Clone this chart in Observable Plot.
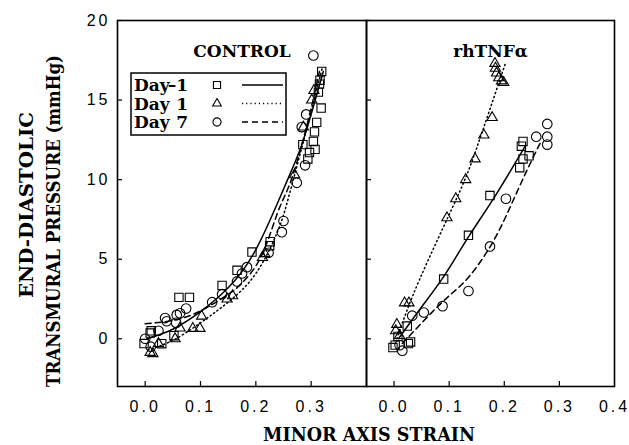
<!DOCTYPE html>
<html><head><meta charset="utf-8">
<script src="https://cdn.jsdelivr.net/npm/d3@7"></script>
<script src="https://cdn.jsdelivr.net/npm/@observablehq/plot@0.6"></script>
<style>
body{margin:0;background:#fff;}
#wrap{position:relative;width:629px;height:445px;overflow:hidden;background:#fff;}
#wrap svg{position:absolute;top:0;}
g[aria-label="x-axis tick label"] text, g[aria-label="y-axis tick label"] text{letter-spacing:3px;}
</style></head><body><div id="wrap"></div>
<script>
// ---------- data ----------
const xDomain = [-0.05, 0.4];
const yDomain = [-3, 20];
const yTicks = [0, 5, 10, 15, 20];
const xTicksLeft = [0, 0.1, 0.2, 0.3];
const xTicksRight = [0, 0.1, 0.2, 0.3, 0.4];
const panelTitles = ["CONTROL", "rhTNFα"];
const seriesNames = ["Day", "Day", "Day"];
const seriesSuffix = ["–1", "1", "7"];
const symbols = ["square", "triangle", "circle"];
const dashes = [null, "1.2,3", "6,4"];

// CONTROL: Day-1 (squares), Day 1 (triangles), Day 7 (circles)
const ctrlDayM1 = [[-0.002,-0.3],[0.009,0.36],[0.011,0.5],[0.030,-0.31],[0.052,0.19],[0.061,2.6],[0.080,2.6],[0.139,3.35],[0.166,4.3],[0.193,5.45],[0.225,5.85],[0.226,6.1],[0.285,12.2],[0.294,11.3],[0.297,11.7],[0.304,12.4],[0.307,11.9],[0.306,13.0],[0.310,13.6],[0.318,14.5],[0.313,15.5],[0.315,16.0],[0.316,16.25],[0.319,16.8]];
const ctrlDay1 = [[0.009,-0.86],[0.014,-0.94],[0.024,-0.3],[0.054,0.0],[0.063,0.67],[0.086,0.65],[0.099,0.65],[0.102,1.42],[0.148,2.5],[0.158,2.7],[0.212,5.1],[0.216,5.35],[0.270,10.3],[0.286,13.3],[0.301,15.0],[0.305,15.6]];
const ctrlDay7 = [[0.0,0.0],[0.010,-0.5],[0.024,0.5],[0.036,1.3],[0.039,1.1],[0.056,1.0],[0.057,1.5],[0.063,1.6],[0.074,1.9],[0.121,2.3],[0.139,2.8],[0.166,3.6],[0.175,4.1],[0.184,4.5],[0.223,5.4],[0.247,6.7],[0.250,7.4],[0.274,9.8],[0.289,10.9],[0.283,13.3],[0.291,14.1],[0.304,17.8]];
const ctrlFitM1 = [[0.003,0.0],[0.05,0.6],[0.1,1.7],[0.15,3.2],[0.2,5.6],[0.25,9.4],[0.28,11.9],[0.30,14.1],[0.322,16.8]];
const ctrlFit1 = [[0.005,-0.7],[0.05,-0.1],[0.1,1.0],[0.15,2.3],[0.2,4.1],[0.24,6.8],[0.26,9.0],[0.28,11.6],[0.30,14.3],[0.32,17.0]];
const ctrlFit7 = [[0.0,0.95],[0.05,1.15],[0.1,1.75],[0.15,2.8],[0.172,3.4],[0.208,5.06],[0.238,7.8],[0.26,9.6],[0.28,11.8],[0.30,14.5],[0.315,16.8]];

// rhTNFα
const tnfDayM1 = [[-0.002,-0.55],[0.002,-0.4],[0.007,0.15],[0.024,0.8],[0.026,-0.3],[0.030,-0.2],[0.090,3.75],[0.135,6.5],[0.174,9.0],[0.228,10.75],[0.234,11.3],[0.245,11.5],[0.231,12.1],[0.234,12.4]];
const tnfDay1 = [[0.003,0.5],[0.005,0.9],[0.010,0.2],[0.019,2.25],[0.027,2.25],[0.096,7.6],[0.112,8.8],[0.130,10.0],[0.147,11.3],[0.163,12.8],[0.178,13.9],[0.183,17.3],[0.184,17.0],[0.186,16.7],[0.190,16.4],[0.195,16.2],[0.199,16.1]];
const tnfDay7 = [[0.010,-0.4],[0.015,-0.75],[0.033,1.45],[0.054,1.65],[0.088,2.05],[0.135,3.0],[0.174,5.8],[0.203,8.8],[0.258,12.7],[0.278,13.5],[0.278,12.7],[0.278,12.2]];
const tnfFitM1 = [[0.008,0.0],[0.05,2.0],[0.09,3.9],[0.135,6.4],[0.184,9.0],[0.238,12.1]];
const tnfFit1 = [[0.005,0.0],[0.046,3.7],[0.112,8.7],[0.15,12.0],[0.203,17.4]];
const tnfFit7 = [[0.015,-0.3],[0.06,1.35],[0.1,2.7],[0.136,3.9],[0.178,6.0],[0.211,8.3],[0.24,10.5],[0.268,12.5]];

// ---------- drawing ----------
const serif = "DejaVu Serif";
const sans = "Liberation Sans";
const radii = [4.7, 3.8, 4.8];

function panel({title, sets, fits, width, marginLeft, marginRight, xTicks, yLabels}) {
  const marks = [];
  sets.forEach((s, i) => marks.push(Plot.dot(s, {x: d => d[0], y: d => d[1], symbol: symbols[i], r: radii[i], stroke: "black", fill: "none", strokeWidth: 1.1})));
  fits.forEach((f, i) => marks.push(Plot.line(f, {x: d => d[0], y: d => d[1], curve: "natural", stroke: "black", strokeWidth: 1.5, strokeDasharray: dashes[i]})));
  marks.push(Plot.frame({stroke: "black", strokeWidth: 1.6}));
  marks.push(Plot.axisX(xTicks.filter(t => t < 0.39), {tickSize: -5, tickFormat: () => "", label: null, strokeWidth: 1.2}));
  marks.push(Plot.axisX(xTicks, {tickSize: 0, tickPadding: 14, tickFormat: d3.format(".1f"), label: null}));
  marks.push(Plot.axisY(yTicks, {tickSize: -5, tickFormat: () => "", label: null, strokeWidth: 1.2}));
  if (yLabels) marks.push(Plot.axisY(yTicks, {tickSize: 0, tickPadding: 7, label: null}));
  marks.push(Plot.text([title], {frameAnchor: "top", dy: 24, fontFamily: serif, fontWeight: "bold", fontSize: 17, fill: "black"}));
  return Plot.plot({
    width, height: 420, marginTop: 20, marginBottom: 34, marginLeft, marginRight,
    x: {domain: xDomain}, y: {domain: yDomain},
    style: {fontFamily: sans, fontSize: "16px", color: "black", background: "transparent", overflow: "visible"},
    marks
  });
}

const wrap = document.getElementById("wrap");
const left = panel({title: panelTitles[0], sets: [ctrlDayM1, ctrlDay1, ctrlDay7], fits: [ctrlFitM1, ctrlFit1, ctrlFit7], width: 368, marginLeft: 117, marginRight: 2, xTicks: xTicksLeft, yLabels: true});
left.style.left = "0px";
wrap.appendChild(left);
const right = panel({title: panelTitles[1], sets: [tnfDayM1, tnfDay1, tnfDay7], fits: [tnfFitM1, tnfFit1, tnfFit7], width: 264, marginLeft: 1, marginRight: 15, xTicks: xTicksRight, yLabels: false});
right.style.left = "365px";
wrap.appendChild(right);

// overlay: axis titles and legend
const ov = d3.select(wrap).append("svg").attr("width", 629).attr("height", 445).style("left", "0px");
ov.append("text").attr("transform", "translate(33,205) rotate(-90)").attr("text-anchor", "middle")
  .attr("font-family", serif).attr("font-weight", "bold").attr("font-size", 19)
  .attr("textLength", 186).attr("lengthAdjust", "spacingAndGlyphs").text("END-DIASTOLIC");
ov.append("text").attr("transform", "translate(60,221) rotate(-90)").attr("text-anchor", "middle")
  .attr("font-family", serif).attr("font-weight", "bold").attr("font-size", 19)
  .attr("textLength", 332).attr("lengthAdjust", "spacingAndGlyphs").text("TRANSMURAL PRESSURE (mmHg)");
ov.append("text").attr("x", 369).attr("y", 441).attr("text-anchor", "middle")
  .attr("font-family", serif).attr("font-weight", "bold").attr("font-size", 18)
  .attr("textLength", 212).attr("lengthAdjust", "spacingAndGlyphs").text("MINOR AXIS STRAIN");

const lg = ov.append("g");
lg.append("rect").attr("x", 131).attr("y", 73).attr("width", 155).attr("height", 62)
  .attr("fill", "white").attr("stroke", "black").attr("stroke-width", 1.5);
const rowsY = [91, 109.5, 128];
rowsY.forEach((by, i) => {
  lg.append("text").attr("x", 134).attr("y", by).attr("font-family", serif).attr("font-weight", "bold").attr("font-size", 17).text(seriesNames[i]);
  lg.append("text").attr("x", 188).attr("y", by).attr("text-anchor", "end").attr("font-family", serif).attr("font-weight", "bold").attr("font-size", 17).text(seriesSuffix[i]);
  const cy = by - 6;
  const sym = {square: d3.symbolSquare, triangle: d3.symbolTriangle, circle: d3.symbolCircle}[symbols[i]];
  const r = radii[i] * 0.85;
  lg.append("path").attr("transform", `translate(217,${cy})`).attr("d", d3.symbol(sym, r * r * Math.PI)())
    .attr("fill", "none").attr("stroke", "black").attr("stroke-width", 1.1);
  lg.append("line").attr("x1", 242).attr("x2", 283).attr("y1", cy).attr("y2", cy)
    .attr("stroke", "black").attr("stroke-width", 1.5).attr("stroke-dasharray", dashes[i]);
});
</script></body></html>
